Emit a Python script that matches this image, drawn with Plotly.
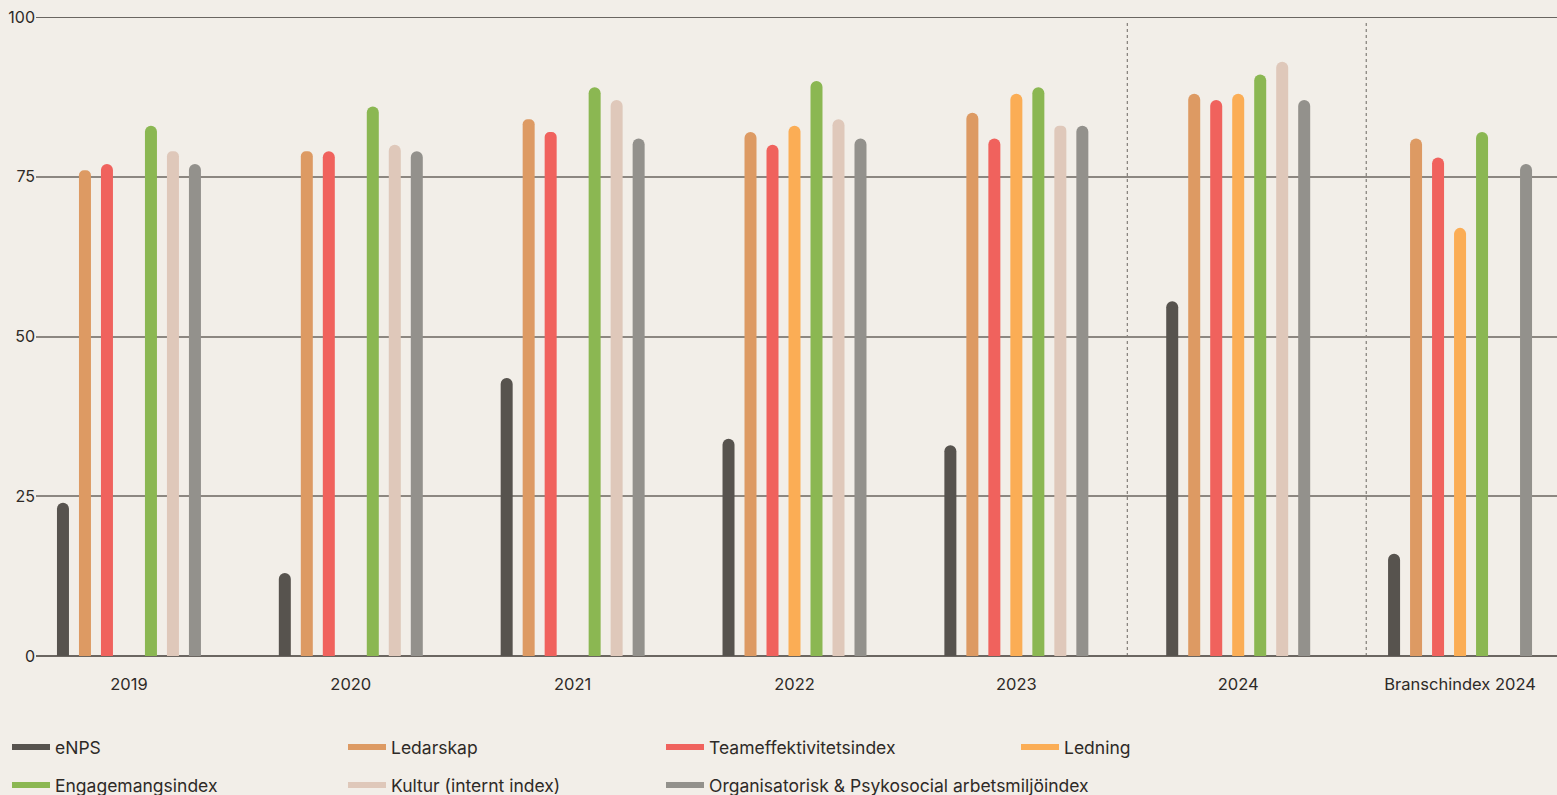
import plotly.graph_objects as go

categories = ["2019", "2020", "2021", "2022", "2023", "2024", "Branschindex 2024"]

series_names = [
    "eNPS", "Ledarskap", "Teameffektivitetsindex", "Ledning",
    "Engagemangsindex", "Kultur (internt index)",
    "Organisatorisk & Psykosocial arbetsmiljöindex",
]

enps = [24, 13, 43.5, 34, 33, 55.5, 16]
ledarskap = [76, 79, 84, 82, 85, 88, 81]
team = [77, 79, 82, 80, 81, 87, 78]
ledning = [None, None, None, 83, 88, 88, 67]
engagemang = [83, 86, 89, 90, 89, 91, 82]
kultur = [79, 80, 87, 84, 83, 93, None]
org = [77, 79, 81, 81, 83, 87, 77]

values = [enps, ledarskap, team, ledning, engagemang, kultur, org]
colors = ["#57534e", "#dd9a63", "#f0625d", "#fbad55", "#8bb752", "#dfc8ba", "#93918c"]

BG = "#f2eee8"
TXT = "#2e2a27"
FONT = "Inter"

# legend layout (pixel columns/rows in the container)
legend_cols = [7, 343, 661, 1016]
legend_rows = [747, 785]

fig = go.Figure()
for name, vals, col in zip(series_names, values, colors):
    fig.add_trace(go.Bar(
        x=categories, y=vals, name=name, marker=dict(color=col, line=dict(width=0)),
        showlegend=False, hoverinfo="y+name",
    ))

legend_layouts = {}
for i, (name, col) in enumerate(zip(series_names, colors)):
    key = "legend" if i == 0 else f"legend{i + 1}"
    fig.add_trace(go.Scatter(
        x=[None], y=[None], mode="lines", name=name,
        line=dict(color=col, width=6), legend=key,
    ))
    legend_layouts[key] = dict(
        orientation="h", xref="container", yref="container",
        x=legend_cols[i % 4] / 1557, xanchor="left",
        y=1 - legend_rows[i // 4] / 795, yanchor="middle",
        font=dict(family=FONT, size=17.5, color=TXT), bgcolor="rgba(0,0,0,0)",
        itemwidth=38,
    )

fig.update_layout(
    width=1557, height=795,
    paper_bgcolor=BG, plot_bgcolor=BG,
    margin=dict(l=36, r=0, t=17, b=139),
    barmode="group", bargap=0.306, bargroupgap=0.4545, barcornerradius=6,
    font=dict(family=FONT, size=16, color=TXT),
    **legend_layouts,
    xaxis=dict(
        type="category", range=[-0.419, 6.437], showgrid=False, showline=False,
        ticks="", ticklabelstandoff=16, tickfont=dict(family=FONT, size=16.5, color=TXT),
        fixedrange=True,
    ),
    yaxis=dict(
        range=[0, 100], tickvals=[0, 25, 50, 75, 100], showgrid=True,
        gridcolor="#8c8781", gridwidth=1.5, zeroline=True, zerolinecolor="#6b6661",
        zerolinewidth=2, ticks="", ticklabelstandoff=0,
        tickfont=dict(family=FONT, size=16, color=TXT), fixedrange=True,
    ),
    shapes=[
        dict(type="line", xref="paper", yref="y", x0=0, x1=1, y0=100, y1=100,
             line=dict(color="#3d3935", width=1.5), layer="below"),
        dict(type="line", xref="x", yref="y", x0=4.5, x1=4.5, y0=0, y1=99.5,
             line=dict(color="#6b6661", width=1, dash="dot"), layer="below"),
        dict(type="line", xref="x", yref="y", x0=5.577, x1=5.577, y0=0, y1=99.5,
             line=dict(color="#6b6661", width=1, dash="dot"), layer="below"),
    ],
)

fig.write_html("out.html")
